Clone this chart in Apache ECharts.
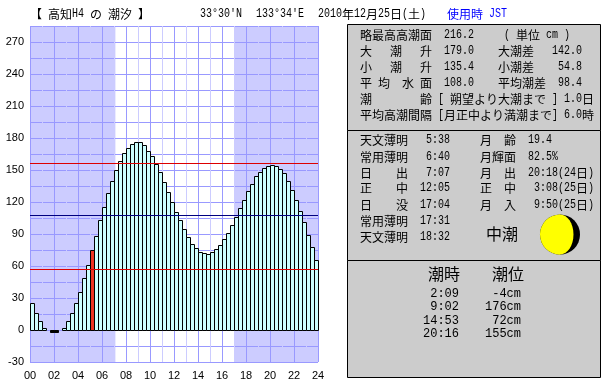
<!DOCTYPE html>
<html lang="ja">

<head>
    <meta charset="UTF-8">
    <title>tide</title>
    <script type="text/javascript" src="https://cdn.jsdelivr.net/npm/echarts@6/dist/echarts.min.js"></script>
    <style>
        html, body { margin: 0; padding: 0; background: #fff; }
    </style>
</head>

<body>
    <div id="main" style="width: 610px;height:385px;"></div>
    <script type="text/javascript">
    // 20 minute steps, 00:00 onward. null = no bar drawn in the original
    var tideLevels = [
        25, 16, 8, 2, null, -2, -2, null, 2, 8, 16, 25,
        36, 49, 61, 75, 88, 103, 115, 128, 140, 150, 158, 166,
        171, 174, 176, 176, 173, 168, 163, 156, 148, 139, 129, 120,
        111, 103, 95, 87, 81, 77, 73, 72, 71, 73, 76, 80,
        85, 91, 98, 106, 114, 122, 130, 137, 144, 148, 152, 154,
        155, 154, 151, 147, 140, 131, 122, 112, 101, 89, 78, 66
    ];
    var currentHour = 5;
    var sunriseHour = 7 + 7 / 60;
    var sunsetHour = 17 + 4 / 60;
    var redLevels = [156.09, 56.72];
    var meanLevel = 107.34;

    var titleOpen = '【';
    var titleText = '高知H4 の 潮汐 】';
    var latText = "33°30'N";
    var lonText = "133°34'E";
    var dateText = '2010年12月25日(土)';
    var zoneText = '使用時 JST';
    var infoLines = [
        '略最高高潮面  216.2     ( 単位 cm )',
        '大   潮   升  179.0    大潮差   142.0',
        '小   潮   升  135.4    小潮差    54.8',
        '平 均  水 面  108.0    平均潮差  98.4',
        '潮        齢 [ 朔望より大潮まで ] 1.0日',
        '平均高潮間隔 [月正中より満潮まで] 6.0時'
    ];
    var sunMoonLines = [
        '天文薄明   5:38     月  齢  19.4',
        '常用薄明   6:40     月輝面  82.5%',
        '日    出   7:07     月  出  20:18(24日)',
        '正    中  12:05     正  中   3:08(25日)',
        '日    没  17:04     月  入   9:50(25日)',
        '常用薄明  17:31',
        '天文薄明  18:32'
    ];
    var tideName = '中潮';
    var tideHeaders = ['潮時', '潮位'];
    var tideTimes = ['2:09', '9:02', '14:53', '20:16'];
    var tideHeights = ['-4cm', '176cm', '72cm', '155cm'];

    var monoFont = '"Liberation Mono", monospace';
    var cjkFont = '"Noto Sans CJK JP", sans-serif';
    var graphics = [];

    function rect(y1, y2) {
        graphics.push({
            type: 'rect',
            shape: { x: 347.5, y: y1 + 0.5, width: 253, height: y2 - y1 },
            style: { fill: '#cccccc', stroke: '#000', lineWidth: 1 },
            silent: true
        });
    }

    // half width / full width grid like the old bitmap font: ascii 6px, kanji 12px
    function line(str, x, y, color) {
        var run = '';
        var runX = x;
        var wide = false;
        function flush() {
            if (run.trim()) {
                graphics.push({
                    type: 'text',
                    x: runX,
                    y: y,
                    scaleX: wide ? 1 : 6 / 7.2,
                    silent: true,
                    style: {
                        text: run,
                        fill: color || '#000',
                        font: '12px ' + (wide ? cjkFont : monoFont),
                        verticalAlign: 'middle'
                    }
                });
            }
        }
        for (var i = 0; i < str.length; i++) {
            var isWide = str.charCodeAt(i) > 0x2000;
            if (isWide !== wide) {
                flush();
                runX = x;
                run = '';
                wide = isWide;
            }
            run += str[i];
            x += isWide ? 12 : 6;
        }
        flush();
    }

    function bigText(str, x, y, size, family, align) {
        graphics.push({
            type: 'text',
            x: x,
            y: y,
            silent: true,
            style: {
                text: str,
                fill: '#000',
                font: size + 'px ' + family,
                align: align || 'left',
                verticalAlign: 'middle'
            }
        });
    }

    rect(24, 130);
    rect(130, 260);
    rect(260, 377);

    line(titleOpen, 30, 14);
    line(titleText, 48, 14);
    line(latText, 200, 14);
    line(lonText, 256, 14);
    line(dateText, 318, 14);
    line(zoneText, 447, 14, '#0000ff');

    var infoY = [35, 51, 67, 83, 99, 115];
    infoLines.forEach(function(str, i) {
        line(str, 360, infoY[i]);
    });

    var sunY = [140, 157, 173, 188, 205, 221, 237];
    sunMoonLines.forEach(function(str, i) {
        line(str, 360, sunY[i]);
    });

    bigText(tideName, 486, 234, 16, cjkFont);
    bigText(tideHeaders[0], 428, 274, 16, cjkFont);
    bigText(tideHeaders[1], 492, 274, 16, cjkFont);
    var rowY = [294, 307, 321, 334];
    tideTimes.forEach(function(str, i) {
        bigText(str, 459, rowY[i], 12, monoFont, 'right');
        bigText(tideHeights[i], 521, rowY[i], 12, monoFont, 'right');
    });

    // moon
    graphics.push({
        type: 'circle',
        shape: { cx: 560, cy: 234.5, r: 20 },
        style: { fill: '#000' },
        silent: true
    });
    graphics.push({
        type: 'sector',
        shape: { cx: 560, cy: 234.5, r0: 0, r: 20, startAngle: Math.PI / 2, endAngle: Math.PI * 1.5 },
        style: { fill: '#ffff00' },
        silent: true
    });
    graphics.push({
        type: 'ellipse',
        shape: { cx: 560, cy: 234.5, rx: 13.5, ry: 20 },
        style: { fill: '#ffff00' },
        silent: true
    });

    var myChart = echarts.init(document.getElementById('main'));

    var gridLine = { show: true, lineStyle: { color: '#9999ff', width: 1 } };
    var axisText = { color: '#000', fontFamily: '"Liberation Sans"', fontSize: 11 };

    // custom bars: the bar series lands on whole pixels, which blurs the 1px border
    function renderBar(params, api) {
        var level = api.value(1);
        if (isNaN(level)) {
            return;
        }
        var hour = api.value(0);
        var from = api.coord([hour, 0]);
        var to = api.coord([hour + 1 / 3, level]);
        var fill = '#ccffff';
        if (hour === currentHour) {
            fill = '#ee3322';
        } else if (level < 0) {
            fill = '#000';
        }
        return {
            type: 'rect',
            shape: {
                x: Math.round(from[0]) + 0.5,
                y: Math.round(from[1]) + 0.5,
                width: Math.round(to[0]) - Math.round(from[0]),
                height: Math.round(to[1]) - Math.round(from[1])
            },
            style: {
                fill: fill,
                stroke: '#000',
                lineWidth: 1
            }
        };
    }

    var option = {
        animation: false,
        backgroundColor: '#fff',
        grid: { left: 30, top: 26, width: 288, height: 336, containLabel: false },
        graphic: graphics,
        xAxis: {
            type: 'value',
            min: 0,
            max: 24,
            interval: 2,
            z: 2,
            axisLine: { show: false },
            axisTick: { show: false },
            splitLine: gridLine,
            minorTick: { show: false, splitNumber: 2 },
            minorSplitLine: { show: true, lineStyle: { color: '#ccccff', width: 1 } },
            axisLabel: Object.assign({
                margin: 8,
                formatter: function(val) {
                    return (val < 10 ? '0' : '') + val;
                }
            }, axisText)
        },
        yAxis: {
            type: 'value',
            min: -30,
            max: 285,
            interval: 15,
            z: 2,
            axisLine: { show: false },
            axisTick: { show: false },
            splitLine: gridLine,
            axisLabel: Object.assign({
                margin: 6,
                padding: [2, 0, 0, 0],
                formatter: function(val) {
                    return val % 30 === 0 ? String(val) : '';
                }
            }, axisText)
        },
        series: [{
            // night shading, under the grid lines
            type: 'line',
            data: [],
            silent: true,
            markArea: {
                silent: true,
                z: 1,
                itemStyle: { color: '#ccccff', opacity: 1 },
                data: [
                    [{ xAxis: 0 }, { xAxis: sunriseHour }],
                    [{ xAxis: sunsetHour }, { xAxis: 24 }]
                ]
            }
        }, {
            type: 'custom',
            z: 3,
            silent: true,
            renderItem: renderBar,
            encode: { x: 0, y: 1 },
            data: tideLevels.map(function(val, i) {
                return [i / 3, val === null ? '-' : val];
            })
        }, {
            // red = spring range, navy = mean level
            type: 'line',
            data: [],
            silent: true,
            markLine: {
                silent: true,
                symbol: 'none',
                animation: false,
                label: { show: false },
                data: [
                    { yAxis: redLevels[0], lineStyle: { color: '#dd0000', width: 1, type: 'solid' } },
                    { yAxis: meanLevel, lineStyle: { color: '#000080', width: 1, type: 'solid' } },
                    { yAxis: redLevels[1], lineStyle: { color: '#dd0000', width: 1, type: 'solid' } }
                ]
            }
        }]
    };

    myChart.setOption(option);
    </script>
</body>

</html>
